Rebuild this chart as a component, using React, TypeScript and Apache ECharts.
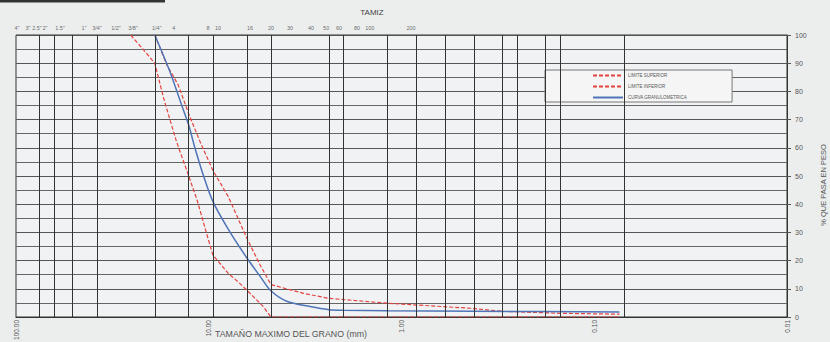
import React, { useEffect, useRef } from "react";
import * as echarts from "echarts";

// Sieve openings (mm) where the vertical grid lines are drawn
const sieveSizesMm = [76.2, 63.5, 50.8, 38.1, 19.05, 12.7, 9.525, 6.35, 4.76, 2.38, 2.0, 1.19, 0.84, 0.59, 0.42, 0.297, 0.25, 0.177, 0.149, 0.074];

// Sieve names printed along the top (TAMIZ) and the axis value where each sits
const topLabels = ['4"', '3"', '2.5"', '2"', '1.5"', '1"', '3/4"', '1/2"', '3/8"', '1/4"', "4", "8", "10", "16", "20", "30", "40", "50", "60", "80", "100", "200"];
const topLabelAt = [98.8, 86.6, 77.8, 70.7, 59.1, 44.4, 38.0, 30.3, 24.7, 18.6, 15.2, 10.1, 8.95, 6.11, 4.75, 3.79, 2.95, 2.46, 2.11, 1.7, 1.46, 0.893];

// Upper limit (LIMITE SUPERIOR): [size mm, % passing]
const upperLimit = [
  [19.05, 100], [16.5, 89.4], [14.4, 82.3], [12.7, 72], [11.1, 62.2],
  [9.525, 52], [7.92, 42.7], [6.35, 28], [5.42, 18.5],
  [4.76, 11.5], [3.23, 8.4], [2.38, 6.6], [1.19, 4.9], [0.441, 3.1], [0.297, 2.0],
  [0.149, 1.3], [0.074, 1.0],
];

// Lower limit (LIMITE INFERIOR)
const lowerLimit = [
  [25.4, 100], [21.4, 94.1], [19.05, 90], [17.2, 78], [15.9, 70], [14.7, 62.2],
  [12.7, 50], [11.5, 41.5], [10.5, 32], [9.525, 22], [7.92, 15.5], [6.75, 11.3],
  [5.87, 7.2], [5.21, 3.7], [4.76, 0], [0.074, 0],
];

// Grading curve (CURVA GRANULOMETRICA)
const gradingCurve = [
  [19.05, 100], [15.9, 87], [13.8, 75], [12.7, 68], [11.8, 60], [10.7, 50.5],
  [9.525, 41], [7.9, 31], [6.35, 21], [5.4, 14.3], [4.76, 9.3], [3.94, 5.6],
  [2.98, 3.7], [2.38, 2.6], [2.0, 2.4], [1.19, 2.2], [0.42, 2.0], [0.074, 1.8],
];

const seriesNames = ["LIMITE SUPERIOR", "LIMITE INFERIOR", "CURVA GRANULOMETRICA"];

export default function App() {
  const ref = useRef<HTMLDivElement>(null);
  useEffect(() => {
    document.body.style.margin = "0";
    const chart = echarts.init(ref.current!, undefined, { renderer: "svg" });
    const font = "Liberation Sans, Arial, sans-serif";
    chart.setOption({
      animation: false,
      backgroundColor: "#eceeee",
      textStyle: { fontFamily: font },
      grid: {
        left: 16, right: 43, top: 35, bottom: 25,
        containLabel: false,
        outerBoundsMode: "none",
        show: true, backgroundColor: "#f1f2f3", borderColor: "#333", borderWidth: 1,
      },
      xAxis: {
        type: "log", logBase: 10, inverse: true, min: 0.01, max: 100,
        axisLine: { show: true, lineStyle: { color: "#333" } },
        axisTick: { show: false },
        splitLine: { show: false },
        axisLabel: {
          rotate: 90, fontSize: 6.5, color: "#555", margin: 3,
          formatter: (v: number) => Number(v).toFixed(2),
        },
      },
      yAxis: {
        type: "value", position: "right", min: 0, max: 100, interval: 10,
        axisLine: { show: true, lineStyle: { color: "#333" } },
        axisTick: { show: true, inside: false, length: 4, lineStyle: { color: "#555" } },
        axisLabel: { fontSize: 7, color: "#555", margin: 8 },
        splitLine: { show: true, lineStyle: { color: "#555", width: 1 } },
        minorTick: { show: false, splitNumber: 2 },
        minorSplitLine: { show: true, lineStyle: { color: "#666", width: 1 } },
      },
      legend: {
        data: seriesNames,
        orient: "vertical",
        left: 545, top: 70,
        itemWidth: 30, itemHeight: 5, itemGap: 6,
        padding: [3, 45, 2, 47],
        backgroundColor: "#f5f5f5", borderColor: "#777", borderWidth: 1,
        itemStyle: { opacity: 0 },
        textStyle: { fontSize: 4.5, color: "#555" },
      },
      graphic: [
        { type: "rect", shape: { x: 0, y: 0, width: 165, height: 2.5 }, style: { fill: "#333" } },
        {
          type: "text", x: 372, y: 12,
          style: { text: "TAMIZ", fontSize: 8, fill: "#444", align: "center", verticalAlign: "middle", fontFamily: font },
        },
        {
          type: "text", x: 215, y: 334,
          style: { text: "TAMAÑO MAXIMO DEL GRANO (mm)", fontSize: 8.8, fill: "#555", align: "left", verticalAlign: "middle", fontFamily: font },
        },
        {
          type: "text", x: 823, y: 185, rotation: Math.PI / 2,
          style: { text: "% QUE PASA EN PESO", fontSize: 7.5, fill: "#555", align: "center", verticalAlign: "middle", fontFamily: font },
        },
      ],
      series: [
        {
          name: "tamiz",
          type: "scatter",
          z: 1,
          symbolSize: 1,
          itemStyle: { color: "rgba(0,0,0,0)" },
          data: topLabels.map((t, i) => ({ name: t, value: [topLabelAt[i], 100] })),
          label: {
            show: true, position: "top", distance: 4, fontSize: 5.5, color: "#444",
            formatter: (p: any) => p.name,
          },
          markLine: {
            silent: true,
            symbol: ["none", "none"],
            label: { show: false },
            lineStyle: { color: "#333", width: 1, type: "solid" },
            data: sieveSizesMm.map((v) => ({ xAxis: v })),
          },
        },
        {
          name: seriesNames[0], type: "line", z: 3, symbol: "none", smooth: false,
          lineStyle: { color: "#e5433f", width: 1.2, type: [4, 2] },
          itemStyle: { color: "#e5433f" },
          data: upperLimit,
        },
        {
          name: seriesNames[1], type: "line", z: 3, symbol: "none", smooth: false,
          lineStyle: { color: "#e5433f", width: 1.2, type: [4, 2] },
          itemStyle: { color: "#e5433f" },
          data: lowerLimit,
        },
        {
          name: seriesNames[2], type: "line", z: 4, symbol: "none", smooth: 0.3,
          lineStyle: { color: "#4f74b8", width: 1.5 },
          itemStyle: { color: "#4f74b8" },
          data: gradingCurve,
        },
      ],
    });
    return () => chart.dispose();
  }, []);
  return <div ref={ref} style={{ width: 830, height: 342 }} />;
}
